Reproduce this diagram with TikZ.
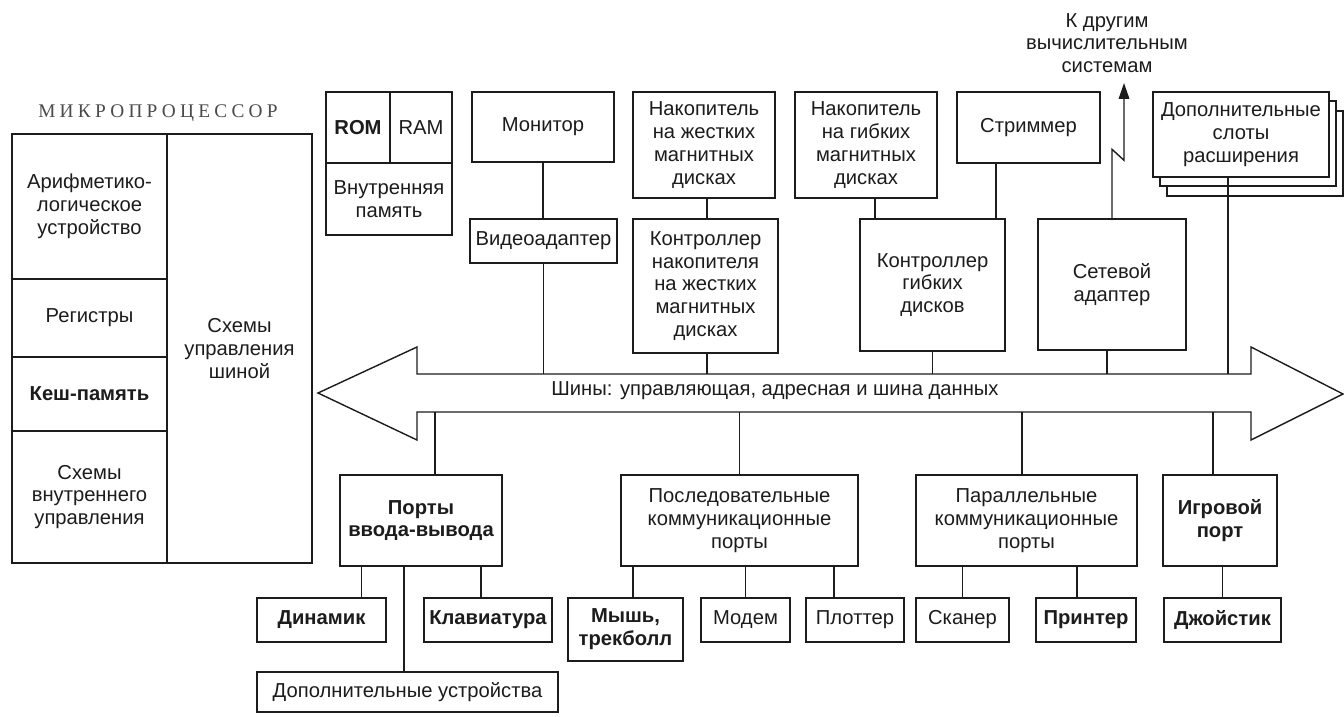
\documentclass[tikz,border=0pt]{standalone}
\usepackage{fontspec}
\setmainfont{Liberation Sans}
\newfontfamily\titlefont[LetterSpace=22]{Liberation Serif}
\usetikzlibrary{arrows.meta}
\definecolor{ink}    {HTML}{1C1C1C}
\definecolor{inksoft}{HTML}{4A4A4A}
\tikzset{
  box/.style   = {draw=ink, line width=0.8pt, fill=white, inner sep=1pt,
                  align=center, text=ink, font=\fontsize{11.5}{13}\selectfont},
  bbox/.style  = {box, font=\fontsize{11.5}{13}\selectfont\bfseries},
  lnk/.style   = {draw=ink, line width=0.8pt},
  title/.style = {font=\fontsize{11}{13}\selectfont\titlefont, text=inksoft},
}

\begin{document}
\begin{tikzpicture}[x=0.02cm, y=-0.02cm, every node/.style={align=center}]
  \useasboundingbox (0,0) rectangle (1344,716);

  % microprocessor
  \node[title] (mptitle) at (158,113) {МИКРОПРОЦЕССОР};
  \node[box, minimum width=3.1cm, minimum height=2.9cm]  (alu)  at (89.5,206.5) {Арифметико-\\логическое\\устройство};
  \node[box, minimum width=3.1cm, minimum height=1.56cm] (reg)  at (89.5,318)   {Регистры};
  \node[bbox, minimum width=3.1cm, minimum height=1.48cm] (cache) at (89.5,394) {Кеш-память};
  \node[box, minimum width=3.1cm, minimum height=2.64cm] (ictl) at (89.5,497)   {Схемы\\внутреннего\\управления};
  \node[box, minimum width=2.9cm, minimum height=8.58cm] (busctl) at (239.5,348.5) {Схемы\\управления\\шиной};

  % memory
  \node[bbox, minimum width=1.28cm, minimum height=1.42cm] (rom) at (358,127.5) {ROM};
  \node[box, minimum width=1.24cm, minimum height=1.42cm]  (ram) at (421,127.5) {RAM};
  \node[box, minimum width=2.52cm, minimum height=1.44cm]  (intmem) at (389,199) {Внутренняя\\память};

  % upper devices
  \node[box, minimum width=2.84cm, minimum height=1.4cm]  (mon)  at (543,127)    {Монитор};
  \node[box, minimum width=2.94cm, minimum height=0.88cm] (vid)  at (543.5,241)  {Видеоадаптер};
  \node[box, minimum width=2.84cm, minimum height=2.12cm] (hdd)  at (704,145)    {Накопитель\\на жестких\\магнитных\\дисках};
  \node[box, minimum width=2.9cm, minimum height=2.68cm]  (hddc) at (705.5,286)  {Контроллер\\накопителя\\на жестких\\магнитных\\дисках};
  \node[box, minimum width=2.84cm, minimum height=2.12cm] (fdd)  at (866,145)    {Накопитель\\на гибких\\магнитных\\дисках};
  \node[box, minimum width=2.9cm, minimum height=2.64cm]  (fddc) at (932.5,285)  {Контроллер\\гибких\\дисков};
  \node[box, minimum width=2.86cm, minimum height=1.42cm] (strm) at (1028.5,127.5) {Стриммер};
  \node[box, minimum width=2.96cm, minimum height=2.62cm] (net)  at (1112,284.5) {Сетевой\\адаптер};
  \node[box, minimum width=3.52cm, minimum height=1.7cm]  (slots3) at (1255,153.5) {};
  \node[box, minimum width=3.52cm, minimum height=1.7cm]  (slots2) at (1248,143.5) {};
  \node[box, minimum width=3.52cm, minimum height=1.7cm]  (slots)  at (1241,134.5) {Дополнительные\\слоты\\расширения};

  % link to other systems
  \node[box, draw=none, fill=none] (ext) at (1107,43) {К другим\\вычислительным\\системам};
  \coordinate (extend) at (1124,83);
  \draw[lnk, -{Triangle[length=9pt, width=6pt]}] (net.north) -- ++(0,-69) -- ++(12,11) -- (extend);

  % bus
  \draw[lnk, fill=white] (318,393) -- (417,347) -- (417,374) -- (1251,374) -- (1251,347)
    -- (1343,394) -- (1251,440) -- (1251,412) -- (417,412) -- (417,440) -- cycle;
  \node[box, draw=none, fill=none] (bus) at (775,391) {Шины: управляющая, адресная и шина данных};
  \coordinate (bt) at (0,374);
  \coordinate (bb) at (0,412);

  % lower devices
  \node[bbox, minimum width=3.24cm, minimum height=1.82cm] (io)   at (421,520.5)    {Порты\\ввода-вывода};
  \node[box,  minimum width=4.74cm, minimum height=1.82cm] (ser)  at (739.5,520.5)  {Последовательные\\коммуникационные\\порты};
  \node[box,  minimum width=4.42cm, minimum height=1.82cm] (par)  at (1026.5,520.5) {Параллельные\\коммуникационные\\порты};
  \node[bbox, minimum width=2.28cm, minimum height=1.82cm] (game) at (1220,520.5)   {Игровой\\порт};

  \node[bbox, minimum width=2.58cm, minimum height=0.88cm] (spk)   at (321.5,620)  {Динамик};
  \node[bbox, minimum width=2.56cm, minimum height=0.88cm] (kbd)   at (488,620)    {Клавиатура};
  \node[box,  minimum width=6.02cm, minimum height=0.8cm]  (extra) at (407.5,692)  {Дополнительные устройства};
  \node[bbox, minimum width=2.3cm,  minimum height=1.26cm] (mouse) at (625.5,629.5) {Мышь,\\трекболл};
  \node[box,  minimum width=1.78cm, minimum height=0.88cm] (modem) at (745.5,620)  {Модем};
  \node[box,  minimum width=1.96cm, minimum height=0.88cm] (plot)  at (855,620)    {Плоттер};
  \node[box,  minimum width=1.86cm, minimum height=0.88cm] (scan)  at (962.5,620)  {Сканер};
  \node[bbox, minimum width=2.0cm,  minimum height=0.88cm] (prn)   at (1086,620)   {Принтер};
  \node[bbox, minimum width=2.34cm, minimum height=0.88cm] (joy)   at (1222.5,620) {Джойстик};

  % connectors
  \foreach \a/\b/\s in {mon/vid/0, hdd/hddc/0.06, fdd/fddc/0.18, strm/fddc/-0.65}
    \draw[lnk] ([xshift=\s cm]\a.south) -- ([xshift=\s cm]\a.south |- \b.north);
  \foreach \n/\s in {vid/0, hddc/0.03, fddc/0, net/-0.1, slots/-0.26}
    \draw[lnk] ([xshift=\s cm]\n.south) -- ([xshift=\s cm]\n.south |- bt);
  \foreach \n/\s in {io/0.28, ser/0, par/-0.09, game/-0.14}
    \draw[lnk] ([xshift=\s cm]\n.north) -- ([xshift=\s cm]\n.north |- bb);
  \foreach \p/\c/\s in {io/spk/0.8, io/kbd/-0.14, io/extra/-0.07, ser/mouse/0.15, ser/modem/0,
                        ser/plot/-0.42, par/scan/0, par/prn/-0.18, game/joy/0}
    \draw[lnk] ([xshift=\s cm]\c.north) -- ([xshift=\s cm]\c.north |- \p.south);

\end{tikzpicture}
\end{document}
